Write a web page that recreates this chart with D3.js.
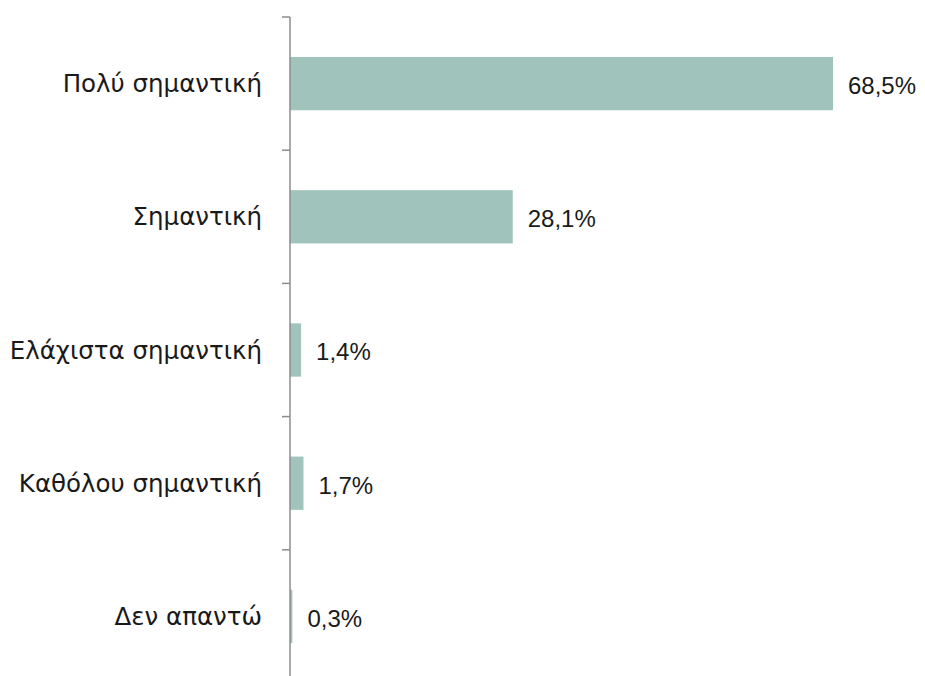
<!DOCTYPE html>
<html>
<head>
<meta charset="utf-8">
<script src="https://cdn.jsdelivr.net/npm/d3@7"></script>
<style>
  body { margin: 0; background: #fff; }
  text { fill: #1a1a1a; }
  .values text { font-family: "Liberation Sans", Arial, sans-serif; font-size: 24px; }
  .axis--y text { font-family: "DejaVu Sans", sans-serif; font-size: 24.5px; }
</style>
</head>
<body>
<svg id="chart"></svg>
<script>
const categories = ['Πολύ σημαντική', 'Σημαντική', 'Ελάχιστα σημαντική', 'Καθόλου σημαντική', 'Δεν απαντώ'];
const values = [68.5, 28.1, 1.4, 1.7, 0.3];
const valueLabels = ['68,5%', '28,1%', '1,4%', '1,7%', '0,3%'];

const width = 925, height = 676;
const margin = { top: 17, left: 290 };

const svg = d3.select('#chart')
  .attr('width', width)
  .attr('height', height);

const x = d3.scaleLinear().domain([0, 68.5]).range([margin.left, 833]);
const y = d3.scaleBand().domain(categories).range([margin.top, 683]).paddingInner(0.6).paddingOuter(0.3);

// bars
svg.append('g').attr('class', 'bars')
  .selectAll('rect')
  .data(values)
  .join('rect')
    .attr('x', x(0))
    .attr('y', (d, i) => y(categories[i]))
    .attr('width', d => x(d) - x(0))
    .attr('height', y.bandwidth())
    .style('fill', '#a0c4bb');

// value labels
svg.append('g').attr('class', 'values')
  .selectAll('text')
  .data(values)
  .join('text')
    .attr('x', d => x(d) + 15)
    .attr('y', (d, i) => y(categories[i]) + y.bandwidth() / 2)
    .attr('dy', '0.43em')
    .text((d, i) => valueLabels[i]);

// category axis
const axis = svg.append('g').attr('class', 'axis--y');
const step = y.step();
const tickYs = d3.range(categories.length + 1).map(i => margin.top + i * step);
axis.append('line')
  .attr('x1', margin.left).attr('x2', margin.left)
  .attr('y1', margin.top).attr('y2', height)
  .style('stroke', '#8c8c8c').style('stroke-width', 1.5);
axis.selectAll('line.tick')
  .data(tickYs)
  .join('line')
    .attr('class', 'tick')
    .attr('x1', margin.left - 8).attr('x2', margin.left)
    .attr('y1', d => d).attr('y2', d => d)
    .style('stroke', '#8c8c8c').style('stroke-width', 1.5);
axis.selectAll('text')
  .data(categories)
  .join('text')
    .attr('x', margin.left - 28)
    .attr('y', d => y(d) + y.bandwidth() / 2)
    .attr('dy', '0.35em')
    .attr('text-anchor', 'end')
    .text(d => d);
</script>
</body>
</html>
